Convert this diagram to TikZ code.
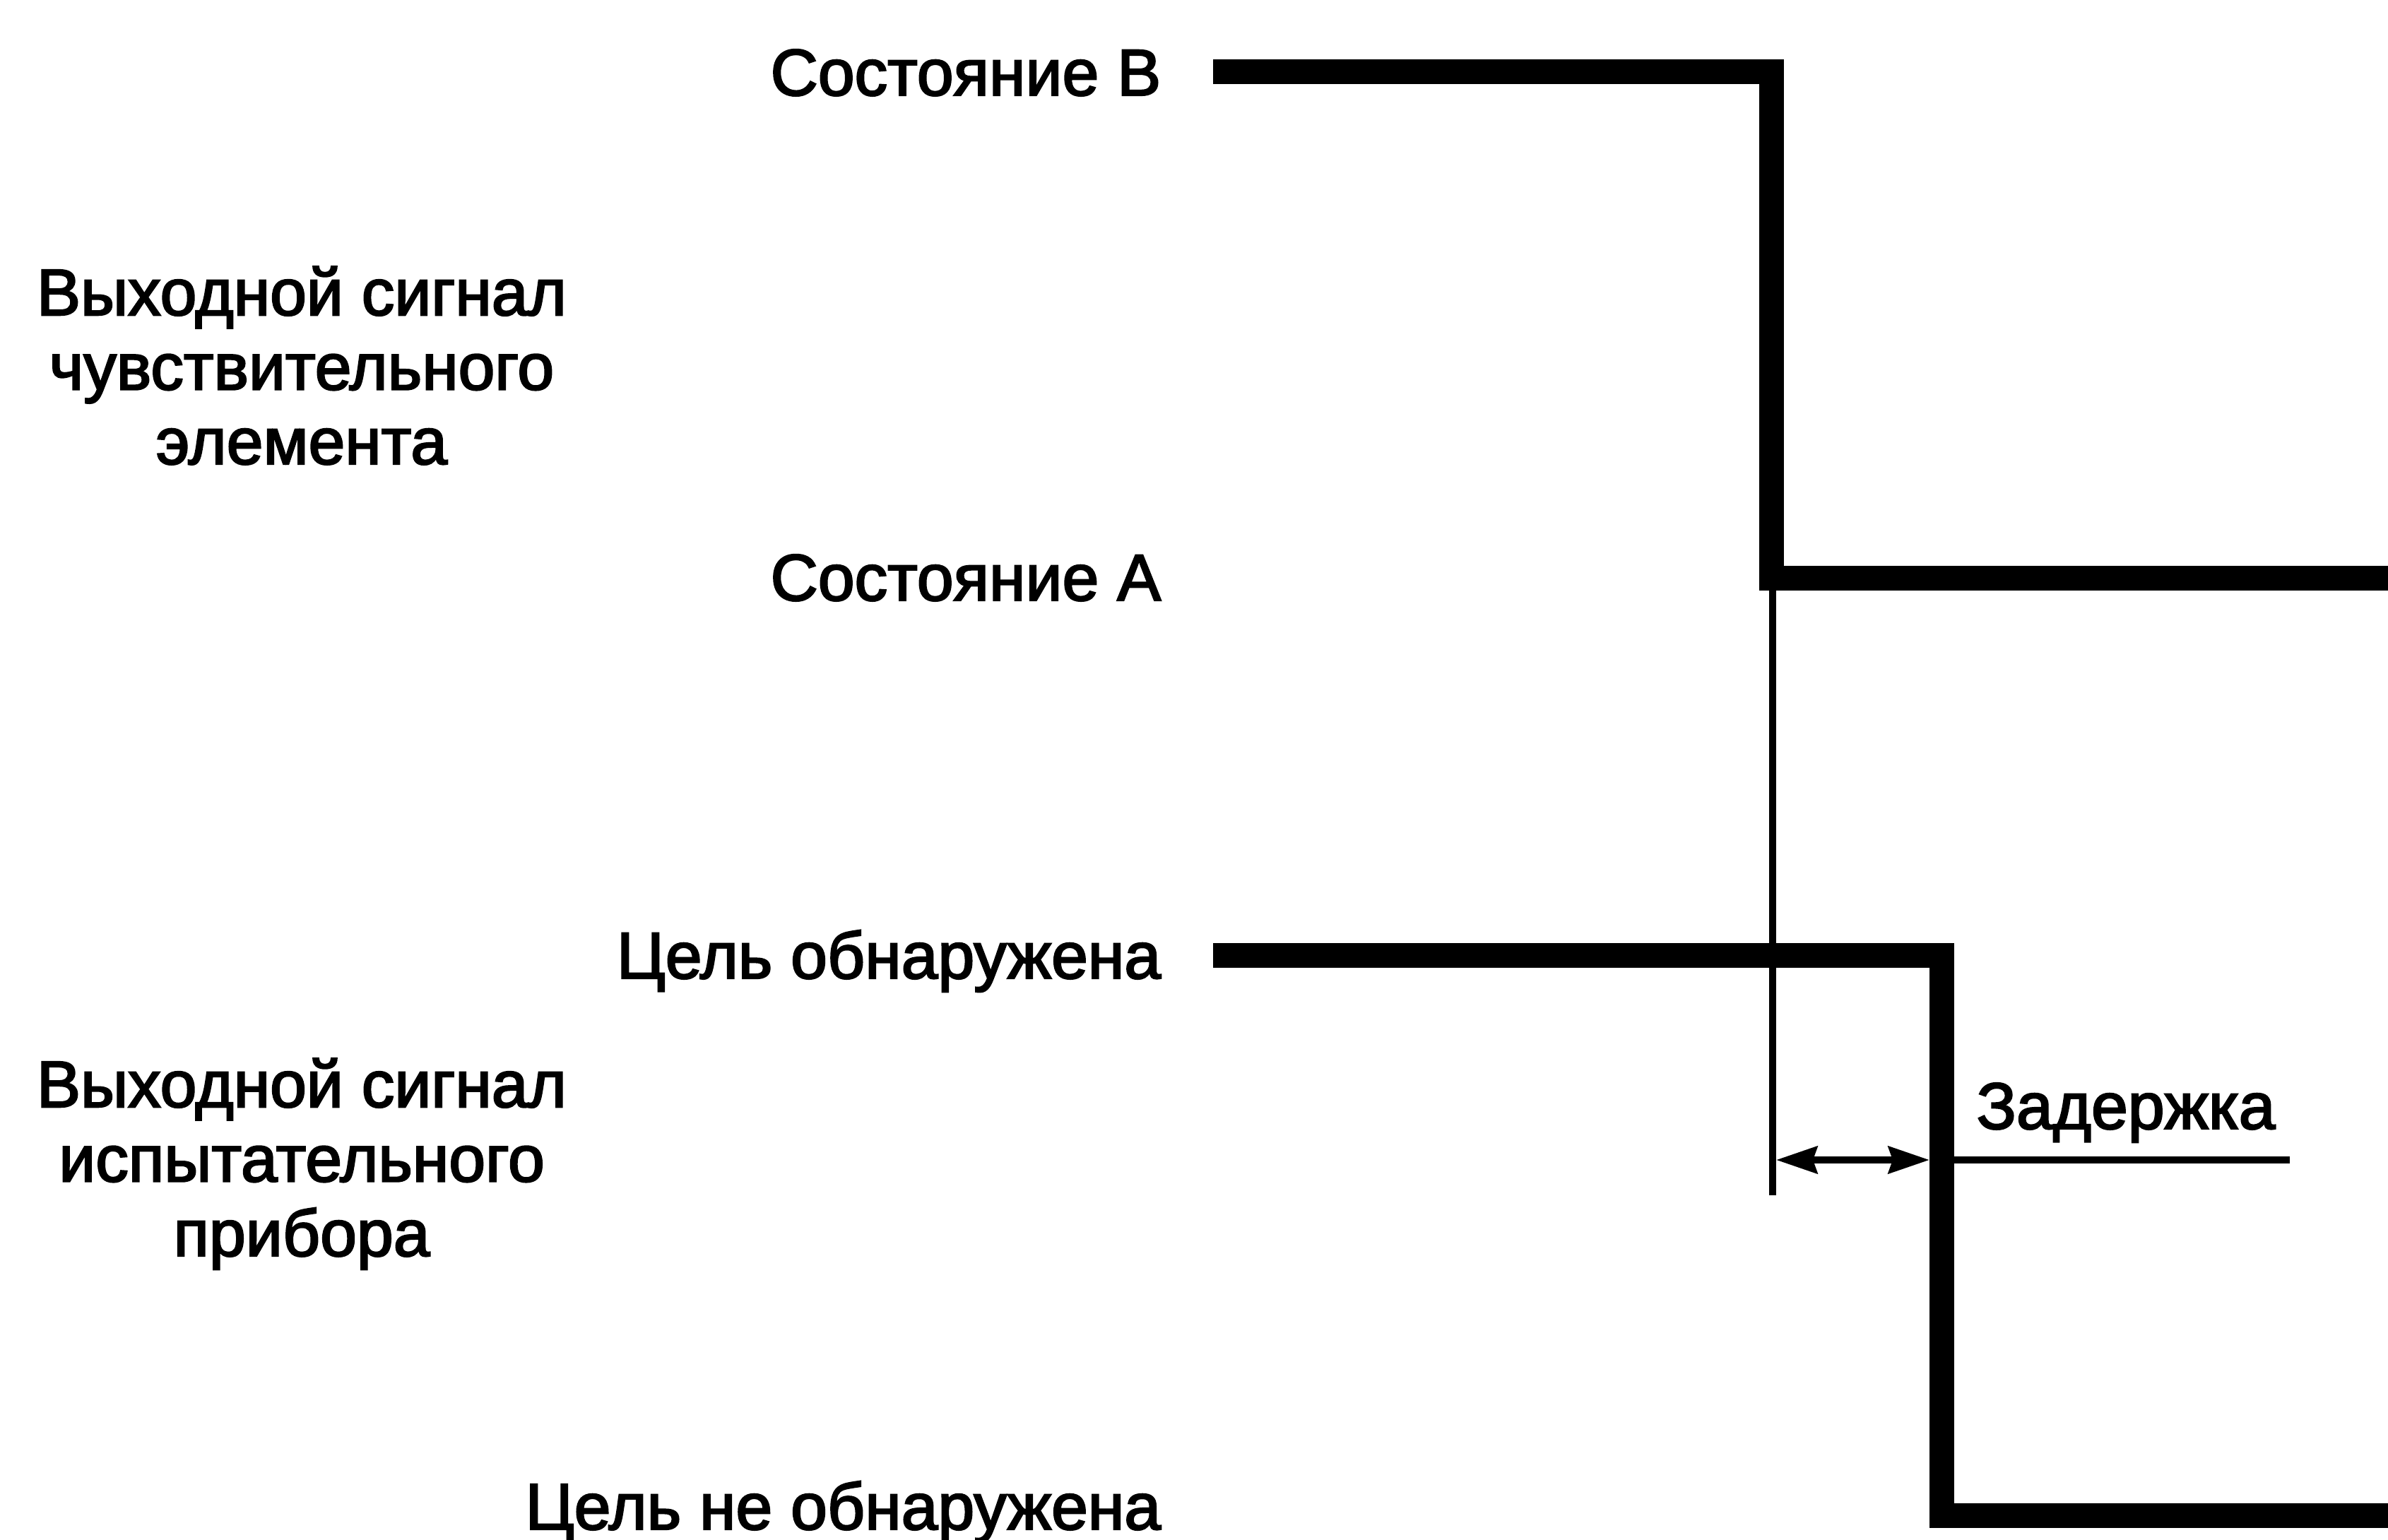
\documentclass[tikz,border=0pt]{standalone}
\usepackage{fontspec}
\setmainfont{Liberation Sans}
\newfontfamily\labelfont{Liberation Sans}[FakeBold=2.5]
\usetikzlibrary{arrows.meta, positioning}

\begin{document}
\begin{tikzpicture}[
                signal/.style={line width=0.35cm, line join=miter, line cap=butt},
                guide/.style={line width=0.10cm},
                delay/.style={guide, {Stealth[length=0.58cm,width=0.38cm,inset=0.06cm]}-{Stealth[length=0.58cm,width=0.38cm,inset=0.06cm]}},
                level/.style={anchor=base east, inner sep=0pt, font=\labelfont\fontsize{26.5}{30}\selectfont},
                caption/.style={anchor=base, inner sep=0pt, align=center, font=\labelfont\fontsize{26.5}{30}\selectfont}
              ]
              \useasboundingbox (0,0) rectangle (33.8,21.79);

              % Levels
              \node[level] (stB) at (16.44,20.44) {Состояние В};
              \node[level] (stA) at (16.44,13.29) {Состояние А};
              \node[level] (hit) at (16.44,7.94) {Цель обнаружена};
              \node[level] (miss) at (16.44,0.14) {Цель не обнаружена};

              % Captions (base = last line)
              \node[caption] (sens) at (4.27,15.22) {Выходной сигнал\\чувствительного\\элемента};
              \node[caption] (dev) at (4.27,4.01) {Выходной сигнал\\испытательного\\прибора};

              % Signal corners
              \coordinate (s0) at (17.17,20.77);
              \coordinate (s1) at (25.07,20.77);
              \coordinate (s2) at (25.07,13.60);
              \coordinate (s3) at (33.90,13.60);
              \coordinate (t0) at (17.17,8.26);
              \coordinate (t1) at (27.48,8.26);
              \coordinate (t2) at (27.48,0.34);
              \coordinate (t3) at (33.90,0.34);

              % Signals
              \draw[signal] (s0) -- (s1) -- (s2) -- (s3);
              \draw[signal] (t0) -- (t1) -- (t2) -- (t3);

              % Delay
              \coordinate (g0) at (25.085,13.60);
              \coordinate (g1) at (25.085,4.87);
              \coordinate (d0) at (25.14,5.37);
              \coordinate (d1) at (27.31,5.37);
              \coordinate (d2) at (32.41,5.37);
              \draw[guide] (g0) -- (g1);
              \draw[delay] (d0) -- (d1);
              \draw[guide] (d1) -- (d2);
              \node[anchor=base west, inner sep=0pt, font=\labelfont\fontsize{26.5}{30}\selectfont] (lag) at (27.97,5.81) {Задержка};
\end{tikzpicture}
\end{document}
